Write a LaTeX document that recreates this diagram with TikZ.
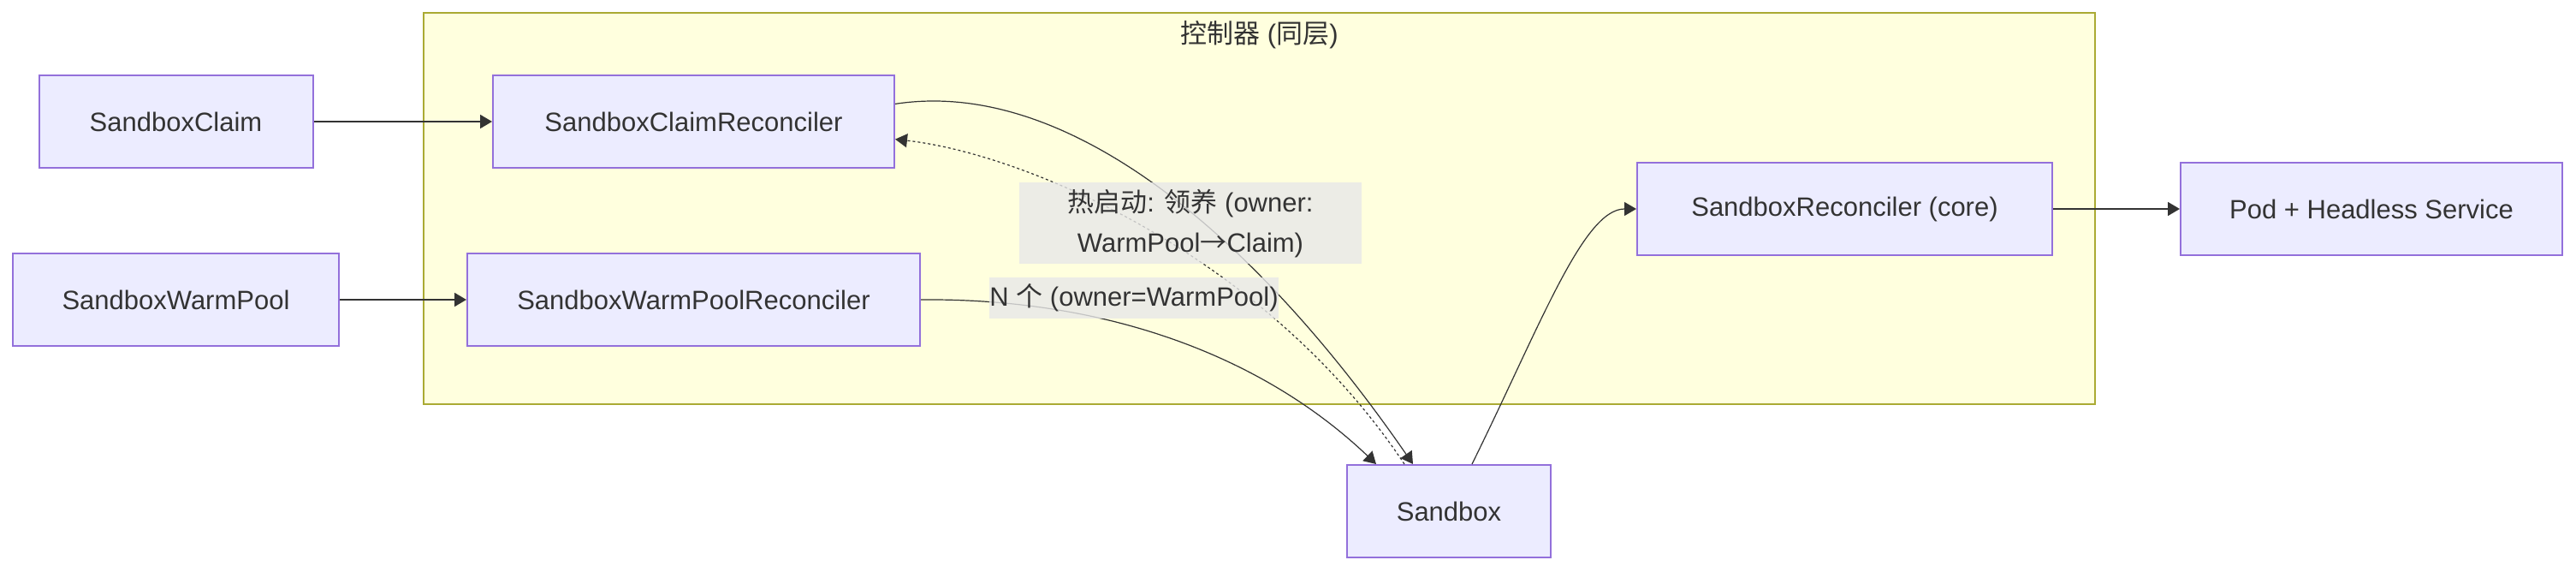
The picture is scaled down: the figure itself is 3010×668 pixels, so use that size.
\documentclass[tikz,border=0pt]{standalone}
\usepackage{fontspec}
\setmainfont{Liberation Sans}
\newfontfamily\cjk{Noto Sans CJK SC}
\usetikzlibrary{arrows.meta, positioning}
\definecolor{nodefill}{HTML}{ECECFF}
\definecolor{nodeline}{HTML}{9370DB}
\definecolor{ctrlfill}{HTML}{FFFFDE}
\definecolor{ctrlline}{HTML}{AAAA33}
\definecolor{textcol}{HTML}{333333}
\definecolor{labelbg}{HTML}{E8E8E8}
\newcommand{\zh}[1]{{\cjk #1}}
\newcommand{\dfont}{\fontsize{15.5pt}{23.5pt}\selectfont}

\begin{document}
\begin{tikzpicture}[
    x=0.5pt, y=-0.5pt,
    >={Triangle[length=7pt, width=8pt]},
    box/.style={draw=nodeline, fill=nodefill, line width=1pt, inner sep=0pt,
                minimum height=54pt, text=textcol, font=\dfont},
    link/.style={->, draw=textcol, line width=0.9pt},
    curvelink/.style={->, draw=textcol, line width=0.6pt},
    elabel/.style={fill=labelbg, fill opacity=0.8, text opacity=1, text=textcol,
                   inner xsep=0pt, inner ysep=0pt, align=center, font=\dfont}
  ]
  \fill[white] (0,0) rectangle (3010,668);
  \useasboundingbox (0,0) rectangle (3010,668);

  % controller group
  \node[draw=ctrlline, fill=ctrlfill, line width=1pt, minimum width=976.5pt,
        minimum height=228.5pt] (ctrl) at (1471.5,243.5) {};
  \node[text=textcol, font=\dfont, inner sep=0pt, below=5pt of ctrl.north]
    (ctrltitle) {\zh{控制器} (\zh{同层})};

  \node[box, minimum width=160pt] (claim) at (205.5,142) {SandboxClaim};
  \node[box, minimum width=234.5pt] (claimrec) at (810.5,142) {SandboxClaimReconciler};
  \node[box, minimum width=190.5pt] (pool) at (205.5,350) {SandboxWarmPool};
  \node[box, minimum width=264.5pt] (poolrec) at (810.5,350) {SandboxWarmPoolReconciler};
  \node[box, minimum width=242.5pt] (sbxrec) at (2155.5,244) {SandboxReconciler (core)};
  \node[box, minimum width=223pt] (pod) at (2771,244) {Pod + Headless Service};
  \node[box, minimum width=119pt] (sbx) at (1693,597) {Sandbox};

  \draw[link] (claim) -- (claimrec);
  \draw[link] (pool) -- (poolrec);
  \draw[link] (sbxrec) -- (pod);

  \draw[curvelink] (claimrec.5) .. controls (1250,90) and (1470,280)
    .. ([xshift=-21pt]sbx.north);
  \draw[curvelink, dash pattern=on 1.5pt off 1.5pt] ([xshift=-26pt]sbx.north)
    .. controls (1480,300) and (1200,180) .. (claimrec.-5);
  \draw[curvelink] (poolrec.east) .. controls (1300,348) and (1480,420)
    .. ([xshift=-42.5pt]sbx.north);
  \draw[curvelink] ([xshift=13.5pt]sbx.north) .. controls (1800,380) and (1850,244)
    .. (sbxrec.west);

  % edge labels
  \node[elabel, minimum width=200pt, minimum height=47.5pt] (adopt) at (1391,261)
    {\zh{热启动}: \zh{领养} (owner:\\WarmPool\zh{→}Claim)};
  \node[elabel, minimum height=23.5pt] (spawn) at (1325,348)
    {N \zh{个} (owner=WarmPool)};
\end{tikzpicture}
\end{document}
